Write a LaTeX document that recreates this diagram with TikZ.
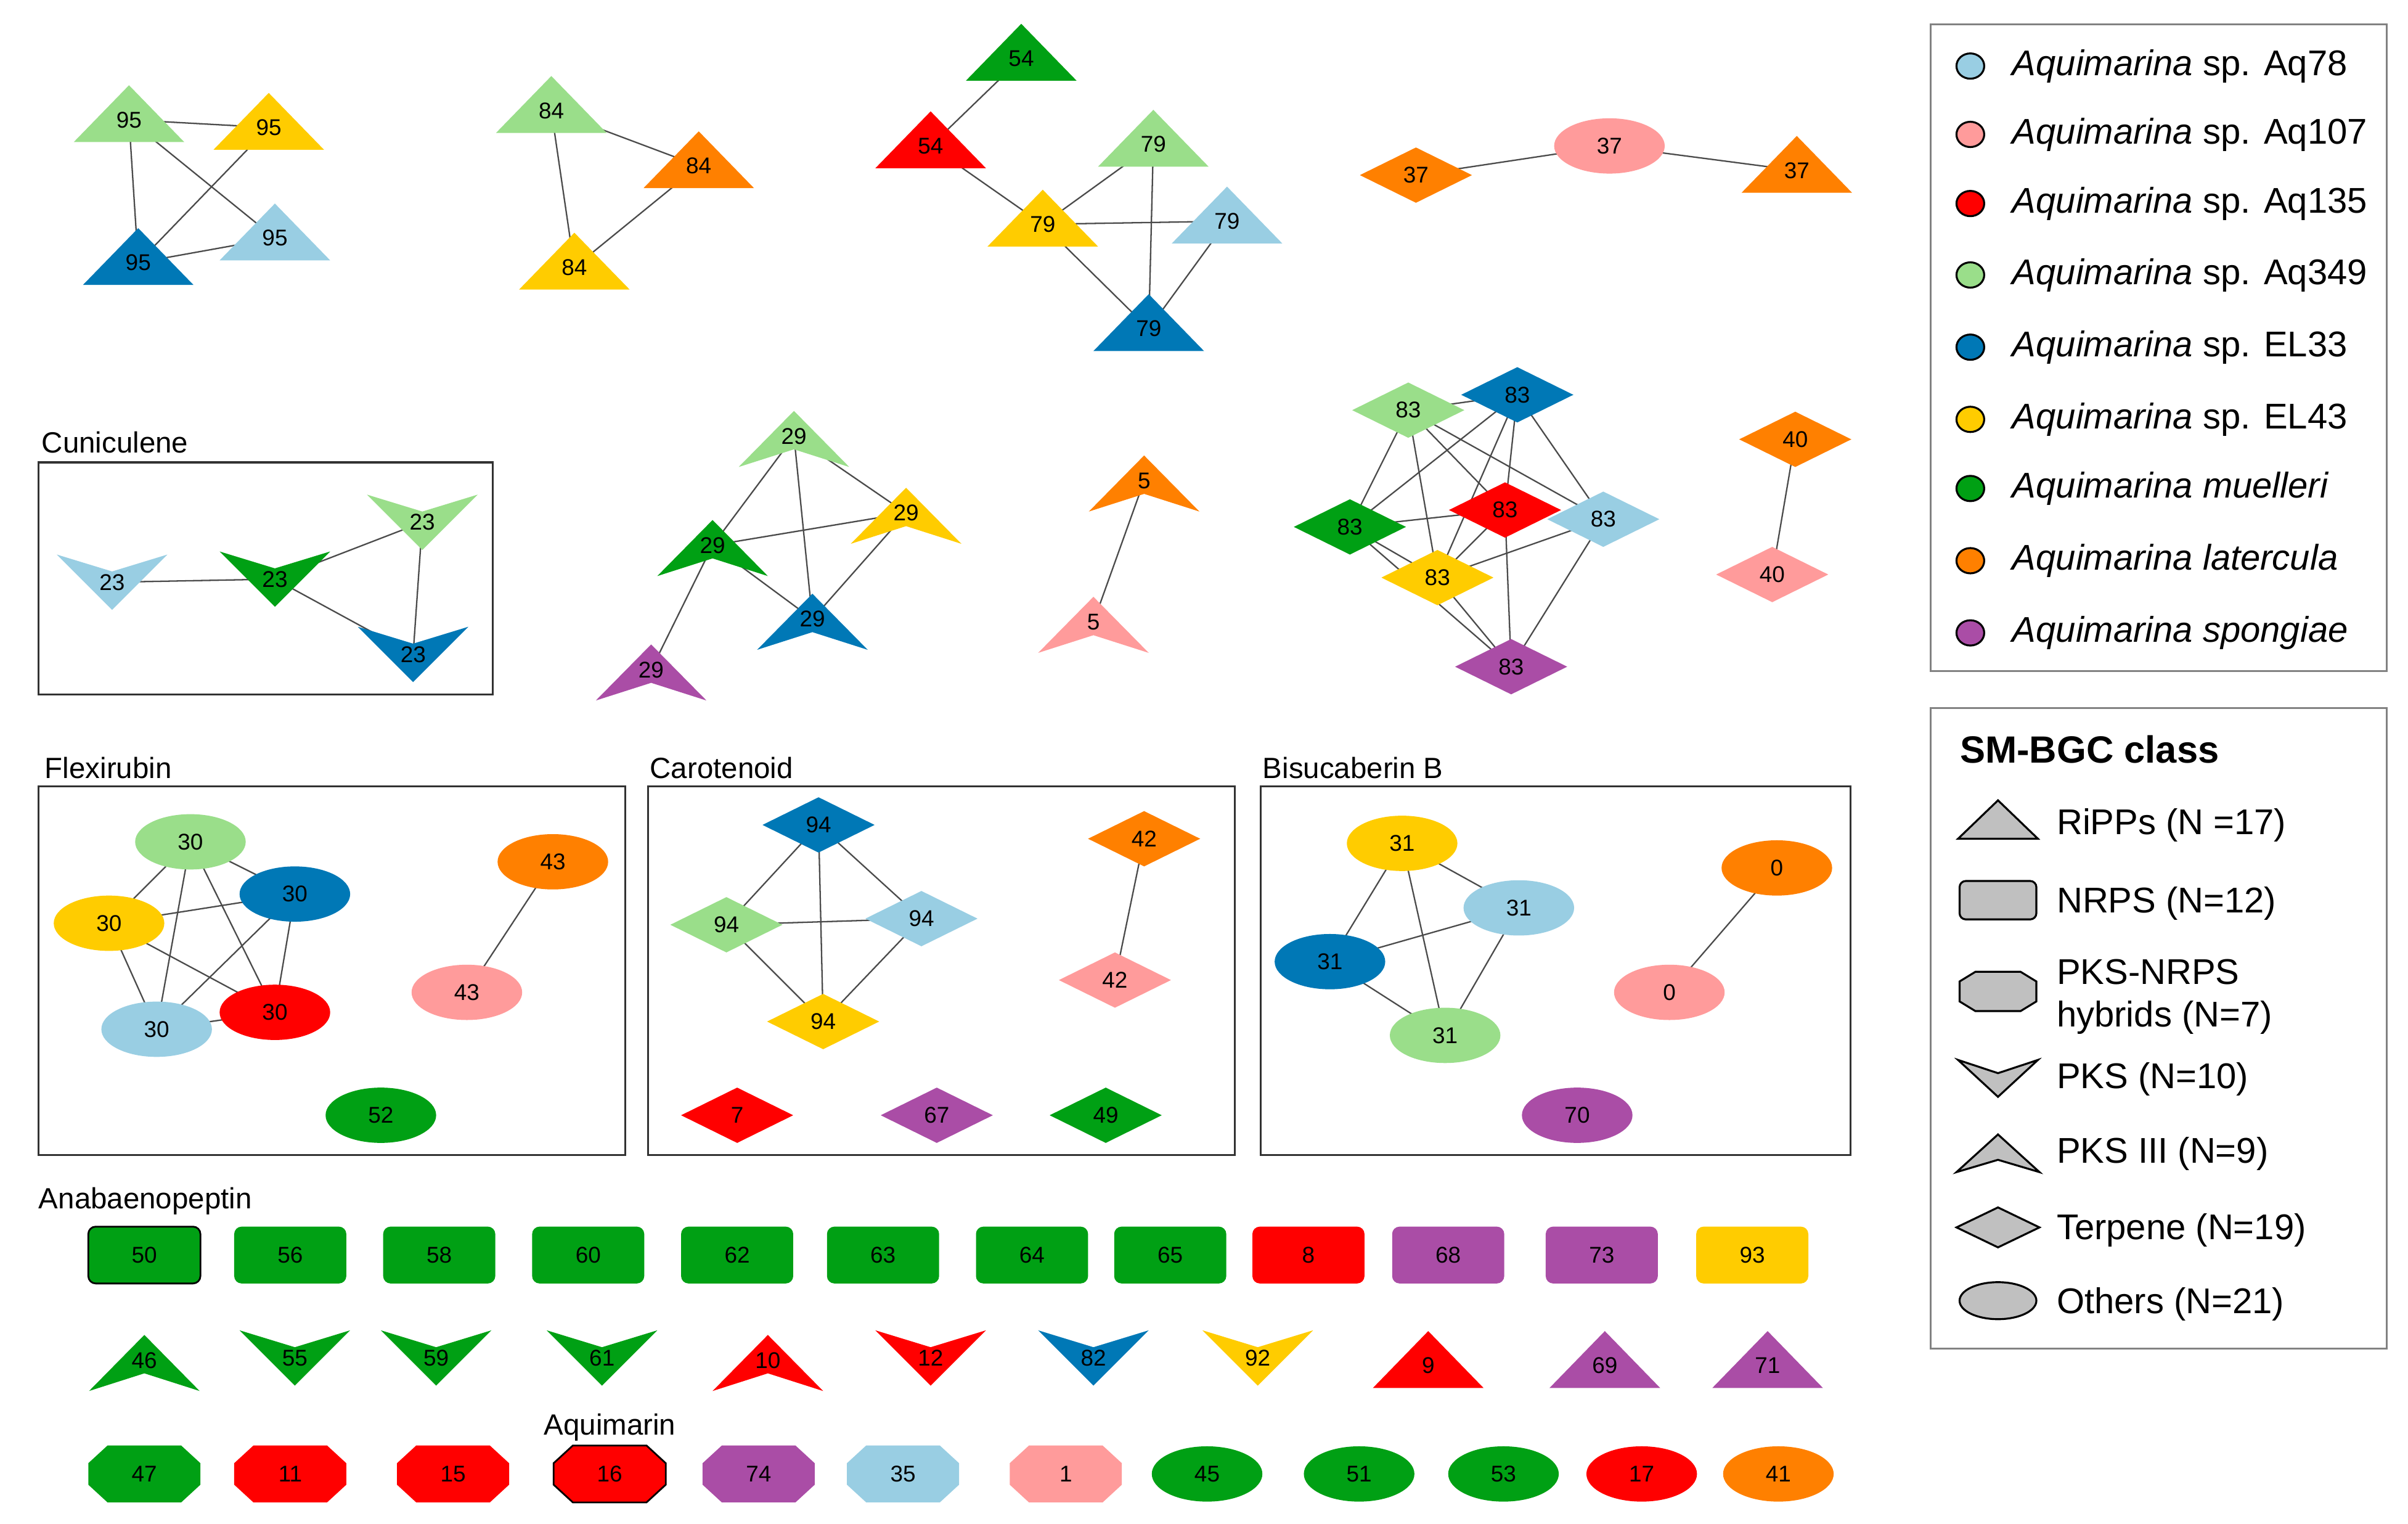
\documentclass[tikz,border=0pt]{standalone}
\usepackage{fontspec}
\setmainfont{Liberation Sans}
\usetikzlibrary{shapes.geometric}
\pgfdeclarelayer{back}
\pgfdeclarelayer{bg}
\pgfsetlayers{back,bg,main}
\definecolor{cLB}{RGB}{153,206,227}
\definecolor{cPK}{RGB}{255,155,155}
\definecolor{cRD}{RGB}{255,0,0}
\definecolor{cLG}{RGB}{154,222,138}
\definecolor{cBL}{RGB}{0,120,182}
\definecolor{cYL}{RGB}{255,204,0}
\definecolor{cGR}{RGB}{0,160,20}
\definecolor{cOR}{RGB}{255,128,0}
\definecolor{cPU}{RGB}{170,77,166}
\definecolor{cEdge}{RGB}{75,75,75}
\definecolor{cFrame}{RGB}{50,50,50}
\definecolor{cLegFrame}{RGB}{130,130,130}
\definecolor{cLeg}{RGB}{192,192,192}
\tikzset{
 lbl/.style={inner sep=0pt, text=black, font=\fontsize{10.5}{12}\selectfont},
 edge/.style={draw=cEdge, line width=0.65pt},
 frame/.style={draw=cFrame, line width=0.9pt},
 ttl/.style={anchor=west, inner sep=0pt, font=\fontsize{13.5}{16}\selectfont},
 legt/.style={anchor=west, inner sep=0pt, font=\fontsize{16.5}{19}\selectfont},
 legc/.style={ellipse, draw=black, line width=0.9pt, minimum width=0.45cm, minimum height=0.41cm, inner sep=0pt},
 legs/.style={fill=cLeg, draw=black, line width=0.9pt},
 grb/.style={fill=cGR, draw=black, line width=0.8pt},
 rdb/.style={fill=cRD, draw=black, line width=0.8pt},
}
% shape macros: name, x, y, fill style, label
\newcommand\NTri[5]{\fill[#4,shift={(#2,#3)}] (-36,14.5) -- (36,14.5) -- (0,-22.5) -- cycle;
 \node[lbl] (#1) at (#2,#3) {#5};}
\newcommand\NVee[5]{\fill[#4,shift={(#2,#3)}] (-36,-18) -- (0,-7) -- (36,-18) -- (0,18) -- cycle;
 \node[lbl] (#1) at (#2,#3) {#5};}
\newcommand\NArr[5]{\fill[#4,shift={(#2,#3)}] (0,-16.5) -- (36,20) -- (0,8.5) -- (-36,20) -- cycle;
 \node[lbl] (#1) at (#2,#3) {#5};}
\newcommand\NDia[5]{\fill[#4,shift={(#2,#3)}] (-36.5,0) -- (0,-18) -- (36.5,0) -- (0,18) -- cycle;
 \node[lbl] (#1) at (#2,#3) {#5};}
\newcommand\NEll[5]{\fill[#4] (#2,#3) ellipse [x radius=0.897cm, y radius=0.4485cm];
 \node[lbl] (#1) at (#2,#3) {#5};}
\newcommand\NRec[5]{\fill[#4,rounded corners=0.12cm,shift={(#2,#3)}] (-36.5,-18.5) rectangle (36.5,18.5);
 \node[lbl] (#1) at (#2,#3) {#5};}
\newcommand\NOct[5]{\fill[#4,shift={(#2,#3)}] (-36.5,-7) -- (-24,-18.5) -- (24,-18.5) -- (36.5,-7) -- (36.5,7) -- (24,18.5) -- (-24,18.5) -- (-36.5,7) -- cycle;
 \node[lbl] (#1) at (#2,#3) {#5};}
\begin{document}
\begin{tikzpicture}[x=0.024917cm,y=-0.024917cm]
\useasboundingbox (0,0) rectangle (1568,992);
\begin{pgfonlayer}{back}
\fill[white] (0,0) rectangle (1568,992);
\end{pgfonlayer}

% ---------- top row ----------
\NTri{t95g}{84}{78}{cLG}{95}
\NTri{t95y}{175}{83}{cYL}{95}
\NTri{t95b}{90}{171}{cBL}{95}
\NTri{t95l}{179}{155}{cLB}{95}

\NTri{t84g}{359}{72}{cLG}{84}
\NTri{t84o}{455}{108}{cOR}{84}
\NTri{t84y}{374}{174}{cYL}{84}

\NTri{t54G}{665}{38}{cGR}{54}
\NTri{t54r}{606}{95}{cRD}{54}
\NTri{t79y}{679}{146}{cYL}{79}
\NTri{t79g}{751}{94}{cLG}{79}
\NTri{t79l}{799}{144}{cLB}{79}
\NTri{t79b}{748}{214}{cBL}{79}

\NDia{d37o}{922}{114}{cOR}{37}
\NEll{e37p}{1048}{95}{cPK}{37}
\NTri{t37o}{1170}{111}{cOR}{37}

% ---------- second row ----------
\node[ttl] (tCun) at (27,288) {Cuniculene};
\draw[frame] (25,301) rectangle (321,452);
\NVee{v23l}{73}{379}{cLB}{23}
\NVee{v23G}{179}{377}{cGR}{23}
\NVee{v23g}{275}{340}{cLG}{23}
\NVee{v23b}{269}{426}{cBL}{23}

\NArr{a29g}{517}{284}{cLG}{29}
\NArr{a29y}{590}{334}{cYL}{29}
\NArr{a29G}{464}{355}{cGR}{29}
\NArr{a29b}{529}{403}{cBL}{29}
\NArr{a29p}{424}{436}{cPU}{29}

\NArr{a5o}{745}{313}{cOR}{5}
\NArr{a5p}{712}{405}{cPK}{5}

\NDia{d83g}{917}{267}{cLG}{83}
\NDia{d83b}{988}{257}{cBL}{83}
\NDia{d83G}{879}{343}{cGR}{83}
\NDia{d83r}{980}{332}{cRD}{83}
\NDia{d83l}{1044}{338}{cLB}{83}
\NDia{d83y}{936}{376}{cYL}{83}
\NDia{d83p}{984}{434}{cPU}{83}

\NDia{d40o}{1169}{286}{cOR}{40}
\NDia{d40p}{1154}{374}{cPK}{40}

% ---------- boxes ----------
\node[ttl] (tFlex) at (29,500) {Flexirubin};
\draw[frame] (25,512) rectangle (407,752);
\NEll{e30g}{124}{548}{cLG}{30}
\NEll{e30b}{192}{582}{cBL}{30}
\NEll{e30y}{71}{601}{cYL}{30}
\NEll{e30r}{179}{659}{cRD}{30}
\NEll{e30l}{102}{670}{cLB}{30}
\NEll{e43o}{360}{561}{cOR}{43}
\NEll{e43p}{304}{646}{cPK}{43}
\NEll{e52}{248}{726}{cGR}{52}

\node[ttl] (tCar) at (423,500) {Carotenoid};
\draw[frame] (422,512) rectangle (804,752);
\NDia{d94b}{533}{537}{cBL}{94}
\NDia{d94g}{473}{602}{cLG}{94}
\NDia{d94l}{600}{598}{cLB}{94}
\NDia{d94y}{536}{665}{cYL}{94}
\NDia{d42o}{745}{546}{cOR}{42}
\NDia{d42p}{726}{638}{cPK}{42}
\NDia{d7}{480}{726}{cRD}{7}
\NDia{d67}{610}{726}{cPU}{67}
\NDia{d49}{720}{726}{cGR}{49}

\node[ttl] (tBis) at (822,500) {Bisucaberin B};
\draw[frame] (821,512) rectangle (1205,752);
\NEll{e31y}{913}{549}{cYL}{31}
\NEll{e31l}{989}{591}{cLB}{31}
\NEll{e31b}{866}{626}{cBL}{31}
\NEll{e31g}{941}{674}{cLG}{31}
\NEll{e0o}{1157}{565}{cOR}{0}
\NEll{e0p}{1087}{646}{cPK}{0}
\NEll{e70}{1027}{726}{cPU}{70}

% ---------- singletons ----------
\node[ttl] (tAna) at (25,782) {Anabaenopeptin};
\NRec{r50}{94}{817}{grb}{50}
\NRec{r56}{189}{817}{cGR}{56}
\NRec{r58}{286}{817}{cGR}{58}
\NRec{r60}{383}{817}{cGR}{60}
\NRec{r62}{480}{817}{cGR}{62}
\NRec{r63}{575}{817}{cGR}{63}
\NRec{r64}{672}{817}{cGR}{64}
\NRec{r65}{762}{817}{cGR}{65}
\NRec{r8}{852}{817}{cRD}{8}
\NRec{r68}{943}{817}{cPU}{68}
\NRec{r73}{1043}{817}{cPU}{73}
\NRec{r93}{1141}{817}{cYL}{93}

\NArr{a46}{94}{885.5}{cGR}{46}
\NVee{v55}{192}{884}{cGR}{55}
\NVee{v59}{284}{884}{cGR}{59}
\NVee{v61}{392}{884}{cGR}{61}
\NArr{a10}{500}{885.5}{cRD}{10}
\NVee{v12}{606}{884}{cRD}{12}
\NVee{v82}{712}{884}{cBL}{82}
\NVee{v92}{819}{884}{cYL}{92}
\NTri{t9}{930}{889}{cRD}{9}
\NTri{t69}{1045}{889}{cPU}{69}
\NTri{t71}{1151}{889}{cPU}{71}

\node[ttl] (tAqu) at (354,929) {Aquimarin};
\NOct{o47}{94}{959.5}{cGR}{47}
\NOct{o11}{189}{959.5}{cRD}{11}
\NOct{o15}{295}{959.5}{cRD}{15}
\NOct{o16}{397}{959.5}{rdb}{16}
\NOct{o74}{494}{959.5}{cPU}{74}
\NOct{o35}{588}{959.5}{cLB}{35}
\NOct{o1}{694}{959.5}{cPK}{1}
\NEll{e45}{786}{959.5}{cGR}{45}
\NEll{e51}{885}{959.5}{cGR}{51}
\NEll{e53}{979}{959.5}{cGR}{53}
\NEll{e17}{1069}{959.5}{cRD}{17}
\NEll{e41}{1158}{959.5}{cOR}{41}

% ---------- edges ----------
\begin{pgfonlayer}{bg}
\foreach \a/\b in {t95g/t95y,t95g/t95b,t95g/t95l,t95y/t95b,t95b/t95l,
 t84g/t84o,t84g/t84y,t84o/t84y,
 t54G/t54r,t54r/t79y,t79y/t79g,t79y/t79l,t79y/t79b,t79g/t79b,t79l/t79b,
 d37o/e37p,e37p/t37o,
 v23l/v23G,v23G/v23g,v23G/v23b,v23g/v23b,
 a29g/a29G,a29g/a29b,a29g/a29y,a29G/a29y,a29G/a29b,a29y/a29b,a29G/a29p,
 a5o/a5p,
 d83g/d83b,d83g/d83G,d83g/d83y,d83g/d83r,d83g/d83l,d83b/d83G,d83b/d83y,d83b/d83r,d83b/d83l,
 d83G/d83r,d83G/d83y,d83G/d83p,d83r/d83y,d83r/d83p,d83l/d83y,d83l/d83p,d83y/d83p,
 d40o/d40p,
 e30g/e30b,e30g/e30y,e30g/e30l,e30g/e30r,e30y/e30b,e30y/e30r,e30y/e30l,e30b/e30l,e30b/e30r,e30l/e30r,
 e43o/e43p,
 d94b/d94g,d94b/d94y,d94b/d94l,d94g/d94l,d94g/d94y,d94l/d94y,
 d42o/d42p,
 e31y/e31l,e31y/e31b,e31y/e31g,e31l/e31b,e31l/e31g,e31b/e31g,
 e0o/e0p}
 \draw[edge] (\a.center) -- (\b.center);
\end{pgfonlayer}

% ---------- legend: species ----------
\draw[draw=cLegFrame, line width=0.8pt] (1257,16) rectangle (1554,437);
\node[legc, fill=cLB] (lc1) at (1283,43) {};
\node[legc, fill=cPK] (lc2) at (1283,87.5) {};
\node[legc, fill=cRD] (lc3) at (1283,132.5) {};
\node[legc, fill=cLG] (lc4) at (1283,179) {};
\node[legc, fill=cBL] (lc5) at (1283,226) {};
\node[legc, fill=cYL] (lc6) at (1283,273) {};
\node[legc, fill=cGR] (lc7) at (1283,318) {};
\node[legc, fill=cOR] (lc8) at (1283,365) {};
\node[legc, fill=cPU] (lc9) at (1283,412) {};
\node[legt] (lt1) at (1310,43) {\textit{Aquimarina} sp. Aq78};
\node[legt] (lt2) at (1310,87.5) {\textit{Aquimarina} sp. Aq107};
\node[legt] (lt3) at (1310,132.5) {\textit{Aquimarina} sp. Aq135};
\node[legt] (lt4) at (1310,179) {\textit{Aquimarina} sp. Aq349};
\node[legt] (lt5) at (1310,226) {\textit{Aquimarina} sp. EL33};
\node[legt] (lt6) at (1310,273) {\textit{Aquimarina} sp. EL43};
\node[legt] (lt7) at (1310,318) {\textit{Aquimarina muelleri}};
\node[legt] (lt8) at (1310,365) {\textit{Aquimarina latercula}};
\node[legt] (lt9) at (1310,412) {\textit{Aquimarina spongiae}};

% ---------- legend: classes ----------
\draw[draw=cLegFrame, line width=0.8pt] (1257,461) rectangle (1554,878);
\node[anchor=west, inner sep=0pt, font=\fontsize{17.5}{20}\selectfont\bfseries] (lh) at (1276,488) {SM-BGC class};
\draw[legs] (1275,546) -- (1327,546) -- (1301,521) -- cycle;
\draw[legs, rounded corners=0.1cm] (1276,573.5) rectangle (1326,598.5);
\draw[legs, shift={(1301,645.4)}] (-25,-6.5) -- (-14.7,-12.8) -- (14.7,-12.8) -- (25,-6.5) -- (25,6.5) -- (14.7,12.8) -- (-14.7,12.8) -- (-25,6.5) -- cycle;
\draw[legs] (1275,690) -- (1301,698.6) -- (1327,690) -- (1301,714) -- cycle;
\draw[legs] (1301,738.5) -- (1328,763) -- (1301,755) -- (1274,763) -- cycle;
\draw[legs] (1274,799) -- (1301,786) -- (1328,799) -- (1301,812) -- cycle;
\draw[legs] (1301,846.7) ellipse [x radius=0.623cm, y radius=0.3cm];
\node[legt] (ls1) at (1339,537) {RiPPs (N =17)};
\node[legt] (ls2) at (1339,588) {NRPS (N=12)};
\node[legt] (ls3a) at (1339,632.6) {PKS-NRPS};
\node[legt] (ls3b) at (1339,662.2) {hybrids (N=7)};
\node[legt] (ls4) at (1339,702.6) {PKS (N=10)};
\node[legt] (ls5) at (1339,751) {PKS III (N=9)};
\node[legt] (ls6) at (1339,801) {Terpene (N=19)};
\node[legt] (ls7) at (1339,849) {Others (N=21)};
\end{tikzpicture}
\end{document}
